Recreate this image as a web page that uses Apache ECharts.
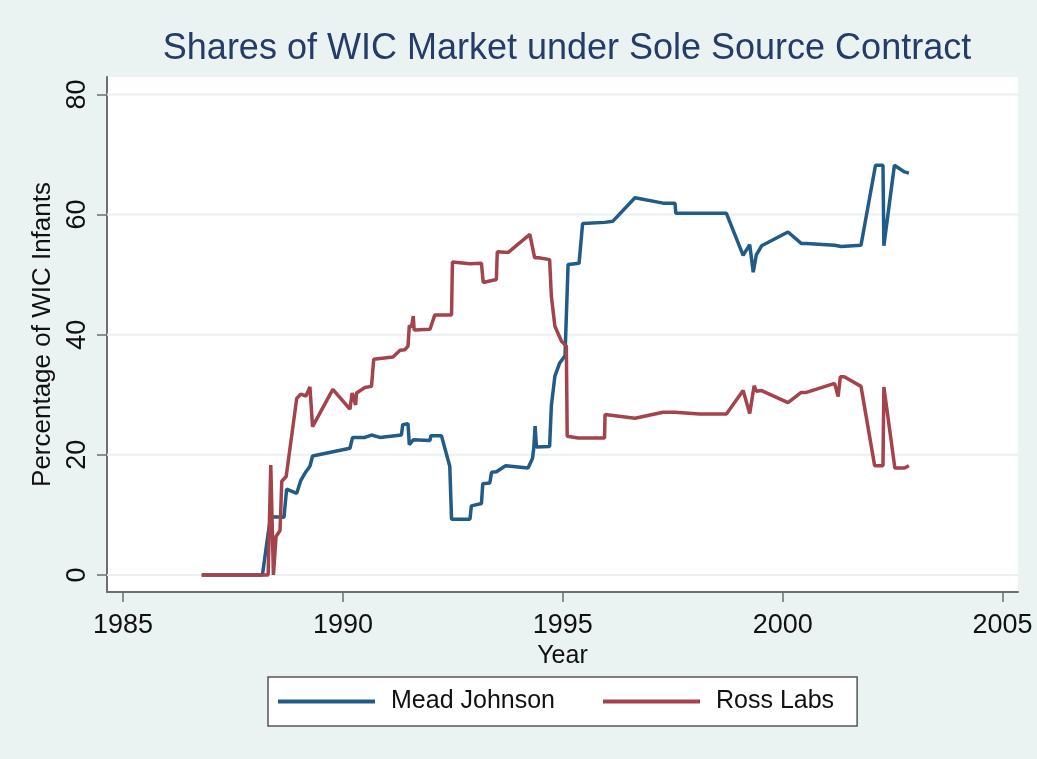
<!DOCTYPE html>
<html>
<head>
<meta charset="utf-8">
<script src="https://cdn.jsdelivr.net/npm/echarts@6/dist/echarts.min.js"></script>
<style>
  html, body { margin: 0; padding: 0; background: #ffffff; }
  #chart { width: 1037px; height: 759px; }
</style>
</head>
<body>
<div id="chart"></div>
<script>
const meadYears = [1986.79, 1988.17, 1988.30, 1988.36, 1988.66, 1988.72, 1988.95, 1989.04, 1989.16, 1989.25,
  1989.31, 1990.16, 1990.22, 1990.50, 1990.65, 1990.84, 1991.33, 1991.36, 1991.48, 1991.51,
  1991.60, 1991.98, 1992.00, 1992.24, 1992.43, 1992.47, 1992.89, 1992.92, 1993.15, 1993.18,
  1993.34, 1993.38, 1993.49, 1993.70, 1994.21, 1994.31, 1994.34, 1994.37, 1994.40, 1994.70,
  1994.74, 1994.82, 1994.93, 1995.05, 1995.12, 1995.37, 1995.45, 1995.95, 1996.14, 1996.64,
  1997.28, 1997.55, 1997.57, 1998.72, 1999.10, 1999.25, 1999.33, 1999.40, 1999.52, 2000.12,
  2000.42, 2000.54, 2001.18, 2001.33, 2001.78, 2002.11, 2002.28, 2002.30, 2002.54, 2002.77,
  2002.87]
const meadShares = [0, 0, 6.9, 9.7, 9.6, 14.3, 13.6, 15.7, 17.2, 18.1,
  19.8, 21.1, 22.9, 22.9, 23.3, 22.9, 23.3, 25.0, 25.2, 21.7,
  22.5, 22.4, 23.2, 23.2, 18.1, 9.3, 9.3, 11.5, 11.9, 15.2,
  15.3, 17.1, 17.2, 18.2, 17.8, 19.4, 21.1, 24.8, 21.3, 21.4,
  28.2, 33.1, 35.3, 36.5, 51.7, 51.9, 58.5, 58.7, 58.9, 62.8,
  61.9, 61.9, 60.2, 60.2, 53.2, 55.0, 50.4, 53.3, 54.8, 57.1,
  55.2, 55.2, 54.9, 54.7, 54.9, 68.2, 68.2, 54.8, 68.2, 67.1,
  66.9]

const rossYears = [1986.79, 1988.30, 1988.36, 1988.42, 1988.48, 1988.57, 1988.61, 1988.71, 1988.95, 1989.04,
  1989.16, 1989.25, 1989.31, 1989.77, 1990.16, 1990.21, 1990.29, 1990.31, 1990.50, 1990.65,
  1990.70, 1991.14, 1991.30, 1991.41, 1991.48, 1991.51, 1991.56, 1991.60, 1991.62, 1991.98,
  1992.09, 1992.47, 1992.49, 1992.89, 1993.15, 1993.19, 1993.49, 1993.51, 1993.76, 1994.25,
  1994.36, 1994.45, 1994.70, 1994.74, 1994.82, 1994.97, 1995.08, 1995.10, 1995.35, 1995.95,
  1995.96, 1996.64, 1997.28, 1997.55, 1998.11, 1998.72, 1999.10, 1999.25, 1999.35, 1999.40,
  1999.52, 2000.12, 2000.42, 2000.54, 2001.18, 2001.26, 2001.31, 2001.40, 2001.78, 2002.09,
  2002.28, 2002.30, 2002.55, 2002.77, 2002.87]
const rossShares = [0, 0, 18.3, 0, 6.4, 7.4, 15.6, 16.4, 29.4, 30.1,
  29.8, 31.3, 24.7, 30.9, 27.6, 30.3, 28.3, 30.3, 31.2, 31.4,
  35.9, 36.3, 37.4, 37.5, 38.1, 41.5, 41.3, 43.1, 40.8, 40.9,
  43.3, 43.3, 52.1, 51.8, 51.9, 48.7, 49.2, 53.8, 53.7, 56.7,
  52.8, 52.8, 52.5, 46.4, 41.4, 38.9, 38.1, 23.1, 22.8, 22.8,
  26.7, 26.1, 27.1, 27.1, 26.8, 26.8, 30.7, 26.9, 31.5, 30.6,
  30.7, 28.7, 30.4, 30.4, 31.9, 29.7, 33.0, 33.0, 31.4, 18.2,
  18.2, 31.3, 17.8, 17.8, 18.2]

const yearTicks = [1985, 1990, 1995, 2000, 2005]
const shareTicks = [0, 20, 40, 60, 80]

const xMin = 1984.636
const xMax = 2005.35

const pairs = (xs, ys) => xs.map((x, i) => [x, ys[i]])

// horizontal grid lines, one broken line per tick
const gridData = []
shareTicks.forEach(v => {
  gridData.push([xMin, v], [xMax, v], '-')
})

const font = '"Liberation Sans", Arial, sans-serif'
const axisGray = '#6e6e6e'

const chart = echarts.init(document.getElementById('chart'))
chart.setOption({
  backgroundColor: '#eaf2f2',
  animation: false,
  title: {
    text: 'Shares of WIC Market under Sole Source Contract',
    left: 562,
    textAlign: 'center',
    top: 26,
    textStyle: { color: '#263c68', fontSize: 36, fontWeight: 'normal', fontFamily: font }
  },
  grid: { left: 107, right: 19, top: 77, bottom: 167, show: true, backgroundColor: '#ffffff', borderWidth: 0 },
  legend: {
    data: ['Mead Johnson', 'Ross Labs'],
    left: 268,
    top: 677,
    padding: [12, 23, 12, 10],
    itemGap: 48,
    itemWidth: 97,
    itemHeight: 4,
    icon: 'rect',
    backgroundColor: '#ffffff',
    borderColor: '#555555',
    borderWidth: 1.5,
    borderRadius: 0,
    textStyle: { fontSize: 25, color: '#111111', fontFamily: font, padding: [0, 0, 0, 11] }
  },
  xAxis: {
    type: 'value',
    min: xMin,
    max: xMax,
    name: 'Year',
    nameLocation: 'middle',
    nameGap: 38,
    nameTextStyle: { fontSize: 25, color: '#111111', fontFamily: font },
    axisLine: { show: true, onZero: false, lineStyle: { color: axisGray, width: 2 } },
    axisTick: { show: true, length: 10, customValues: yearTicks, lineStyle: { color: axisGray, width: 1.5 } },
    axisLabel: { customValues: yearTicks, formatter: v => String(v), fontSize: 27, color: '#111111', fontFamily: font, margin: 20 },
    splitLine: { show: false }
  },
  yAxis: {
    type: 'value',
    min: -2.83,
    max: 82.9,
    name: 'Percentage of WIC Infants',
    nameLocation: 'middle',
    nameGap: 49,
    nameTextStyle: { fontSize: 26, color: '#111111', fontFamily: font },
    axisLine: { show: true, onZero: false, lineStyle: { color: axisGray, width: 2 } },
    axisTick: { show: true, length: 10, customValues: shareTicks, lineStyle: { color: axisGray, width: 1.5 } },
    axisLabel: { customValues: shareTicks, rotate: 90, fontSize: 27, color: '#111111', fontFamily: font, margin: 16 },
    splitLine: { show: false }
  },
  series: [
    {
      name: 'grid',
      type: 'line',
      data: gridData,
      z: 0,
      silent: true,
      symbol: 'none',
      connectNulls: false,
      lineStyle: { color: '#eaf0f0', width: 2 }
    },
    {
      name: 'Mead Johnson',
      type: 'line',
      data: pairs(meadYears, meadShares),
      symbol: 'none',
      z: 3,
      color: '#215b87',
      lineStyle: { color: '#215b87', width: 3.5 }
    },
    {
      name: 'Ross Labs',
      type: 'line',
      data: pairs(rossYears, rossShares),
      symbol: 'none',
      z: 4,
      color: '#a3434b',
      lineStyle: { color: '#a3434b', width: 3.5 }
    }
  ]
})
</script>
</body>
</html>
